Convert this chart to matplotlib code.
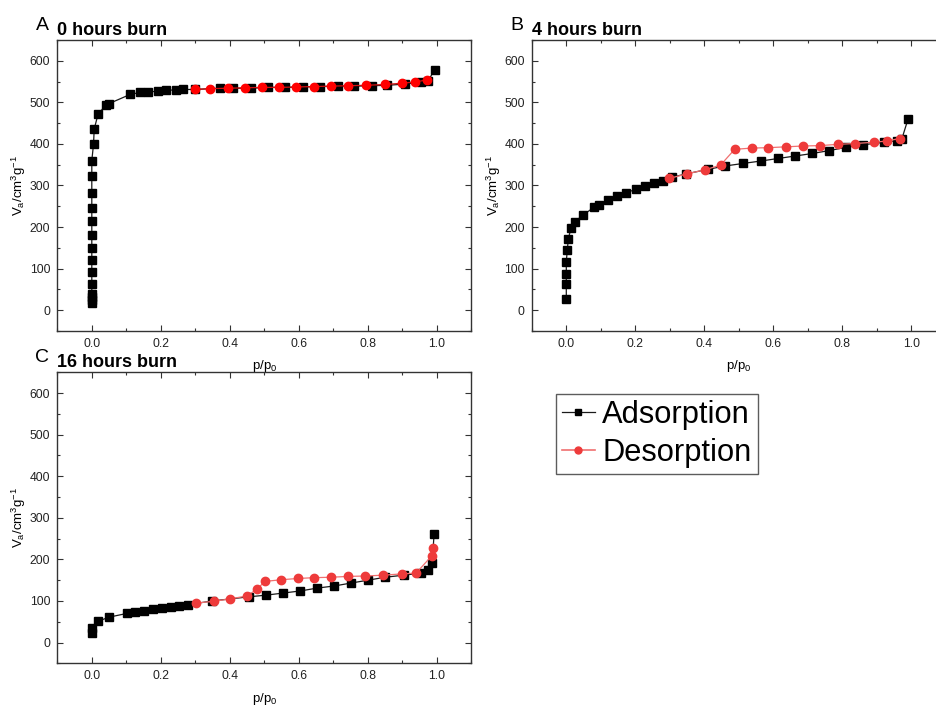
import matplotlib
matplotlib.use("Agg")
import matplotlib.pyplot as plt
from matplotlib.ticker import MultipleLocator
from matplotlib.lines import Line2D

plt.rcParams["font.family"] = ["Liberation Sans", "DejaVu Sans"]
plt.rcParams["mathtext.default"] = "regular"

# ---- isotherm data: relative pressure p/p0 and adsorbed volume (cm3/g) ----
# 0 hours burn
p_ads_0h = [0.0, 0.0, 0.0, 0.0, 0.0, 0.0, 0.0, 0.0, 0.0, 0.0, 0.0, 0.0, 0.0, 0.0, 0.005, 0.007,
            0.018, 0.04, 0.05, 0.111, 0.141, 0.164, 0.193, 0.216, 0.245, 0.265, 0.298, 0.371,
            0.409, 0.461, 0.512, 0.561, 0.613, 0.662, 0.713, 0.761, 0.811, 0.855, 0.909,
            0.953, 0.975, 0.994]
v_ads_0h = [18, 25, 32, 40, 64, 91, 120, 149, 180, 214, 247, 283, 322, 360, 399, 436,
            471, 493, 497, 519, 524, 525, 527, 529, 530, 531, 531, 534,
            534, 534, 536, 536, 537, 538, 539, 539, 540, 541, 544,
            549, 552, 579]
p_des_0h = [0.30, 0.344, 0.394, 0.445, 0.494, 0.543, 0.593, 0.643, 0.692, 0.743, 0.794,
            0.851, 0.900, 0.937, 0.971]
v_des_0h = [531, 533, 534, 535, 536, 536, 537, 538, 539, 540, 541, 543, 546, 549, 554]

# 4 hours burn
p_ads_4h = [0.0, 0.0, 0.0, 0.0, 0.003, 0.006, 0.0135, 0.026, 0.047, 0.081, 0.096, 0.122,
            0.148, 0.174, 0.203, 0.229, 0.255, 0.281, 0.307, 0.348, 0.411, 0.461, 0.512,
            0.565, 0.614, 0.664, 0.713, 0.762, 0.812, 0.86, 0.922, 0.96, 0.973, 0.991]
v_ads_4h = [26, 62, 87, 117, 146, 172, 197, 213, 228, 248, 254, 264,
            274, 283, 291, 298, 305, 312, 320, 328, 339, 347, 353,
            359, 365, 371, 377, 384, 392, 398, 404, 408, 413, 461]
p_des_4h = [0.298, 0.35, 0.403, 0.447, 0.488, 0.537, 0.586, 0.636, 0.686, 0.736, 0.787,
            0.837, 0.891, 0.929, 0.966]
v_des_4h = [317, 328, 338, 349, 387, 390, 391, 393, 395, 396, 399, 401, 404, 407, 413]

# 16 hours burn
p_ads_16h = [0.0, 0.0, 0.018, 0.05, 0.102, 0.125, 0.151, 0.177, 0.203, 0.229, 0.253, 0.279,
             0.349, 0.456, 0.506, 0.555, 0.604, 0.654, 0.703, 0.751, 0.801, 0.85, 0.904,
             0.955, 0.974, 0.987, 0.992]
v_ads_16h = [24, 34, 51, 61, 70, 73, 75, 80, 83, 86, 88, 91,
             100, 110, 114, 119, 124, 131, 136, 143, 150, 157, 162,
             167, 175, 191, 261]
p_des_16h = [0.303, 0.353, 0.401, 0.45, 0.478, 0.502, 0.549, 0.597, 0.644, 0.693, 0.743,
             0.793, 0.845, 0.898, 0.94, 0.986, 0.99]
v_des_16h = [95, 99, 105, 112, 128, 147, 151, 154, 156, 157, 159, 160, 162, 165, 167, 209, 228]

panels = [
    ("A", "0 hours burn", p_ads_0h, v_ads_0h, p_des_0h, v_des_0h, "#ff0000", "#d01010"),
    ("B", "4 hours burn", p_ads_4h, v_ads_4h, p_des_4h, v_des_4h, "#ee3b3b", "#f07070"),
    ("C", "16 hours burn", p_ads_16h, v_ads_16h, p_des_16h, v_des_16h, "#ee3b3b", "#f07070"),
]

W, H = 936, 707
fig = plt.figure(figsize=(W / 100, H / 100), dpi=100)

# axes rectangles in pixels: left, top, width, height
rects = [(57.3, 40, 414, 291), (531.8, 40, 414, 291), (57.3, 372.3, 414, 291)]
letter_pos = [(36, 29.5), (510, 29.5), (35, 362)]

tick_color = "#333333"
for (letter, title, pa, va, pd, vd, dcol, dline), (l, t, w, h), (lx, ly) in zip(panels, rects, letter_pos):
    ax = fig.add_axes([l / W, (H - t - h) / H, w / W, h / H])
    ax.plot(pa, va, color="#1a1a1a", lw=0.9, marker="s", ms=6, mfc="black", mec="black",
            zorder=2)
    ax.plot(pd, vd, color=dline, lw=0.9, marker="o", ms=6, mfc=dcol, mec=dcol, zorder=3)
    ax.set_xlim(-0.1, 1.1)
    ax.set_ylim(-50, 650)
    ax.xaxis.set_major_locator(MultipleLocator(0.2))
    ax.xaxis.set_minor_locator(MultipleLocator(0.1))
    ax.yaxis.set_major_locator(MultipleLocator(100))
    ax.yaxis.set_minor_locator(MultipleLocator(50))
    ax.tick_params(which="both", direction="in", top=True, right=True, color=tick_color,
                   width=0.8)
    ax.tick_params(which="major", length=4, labelsize=8.7, labelcolor="#222222", pad=5)
    ax.tick_params(which="minor", length=2)
    ax.xaxis.set_major_formatter(matplotlib.ticker.FormatStrFormatter("%.1f"))
    for s in ax.spines.values():
        s.set_color(tick_color)
        s.set_linewidth(1.0)
    ax.set_xlabel("p/p$_0$", fontsize=9.5, labelpad=6)
    ax.set_ylabel("V$_a$/cm$^3$g$^{-1}$", fontsize=9.5, labelpad=1)
    fig.text(lx / W, 1 - ly / H, letter, fontsize=14, va="baseline", ha="left")
    fig.text(l / W, 1 - (t - 5) / H, title, fontsize=13, fontweight="bold",
             va="baseline", ha="left")

handles = [
    Line2D([], [], color="#1a1a1a", lw=0.9, marker="s", ms=4, mfc="black", mec="black"),
    Line2D([], [], color="#f07070", lw=1.2, marker="o", ms=5, mfc="#ee3b3b", mec="#ee3b3b"),
]
leg = fig.legend(handles, ["Adsorption", "Desorption"], loc="upper left",
                 bbox_to_anchor=(556 / W, 1 - 394 / H), fontsize=22.2, frameon=True,
                 fancybox=False, edgecolor="#333333", handlelength=1.05,
                 handletextpad=0.25, borderpad=0.2, labelspacing=0.25, borderaxespad=0)
leg.get_frame().set_linewidth(1.0)

fig.savefig("out.png", dpi=100)
